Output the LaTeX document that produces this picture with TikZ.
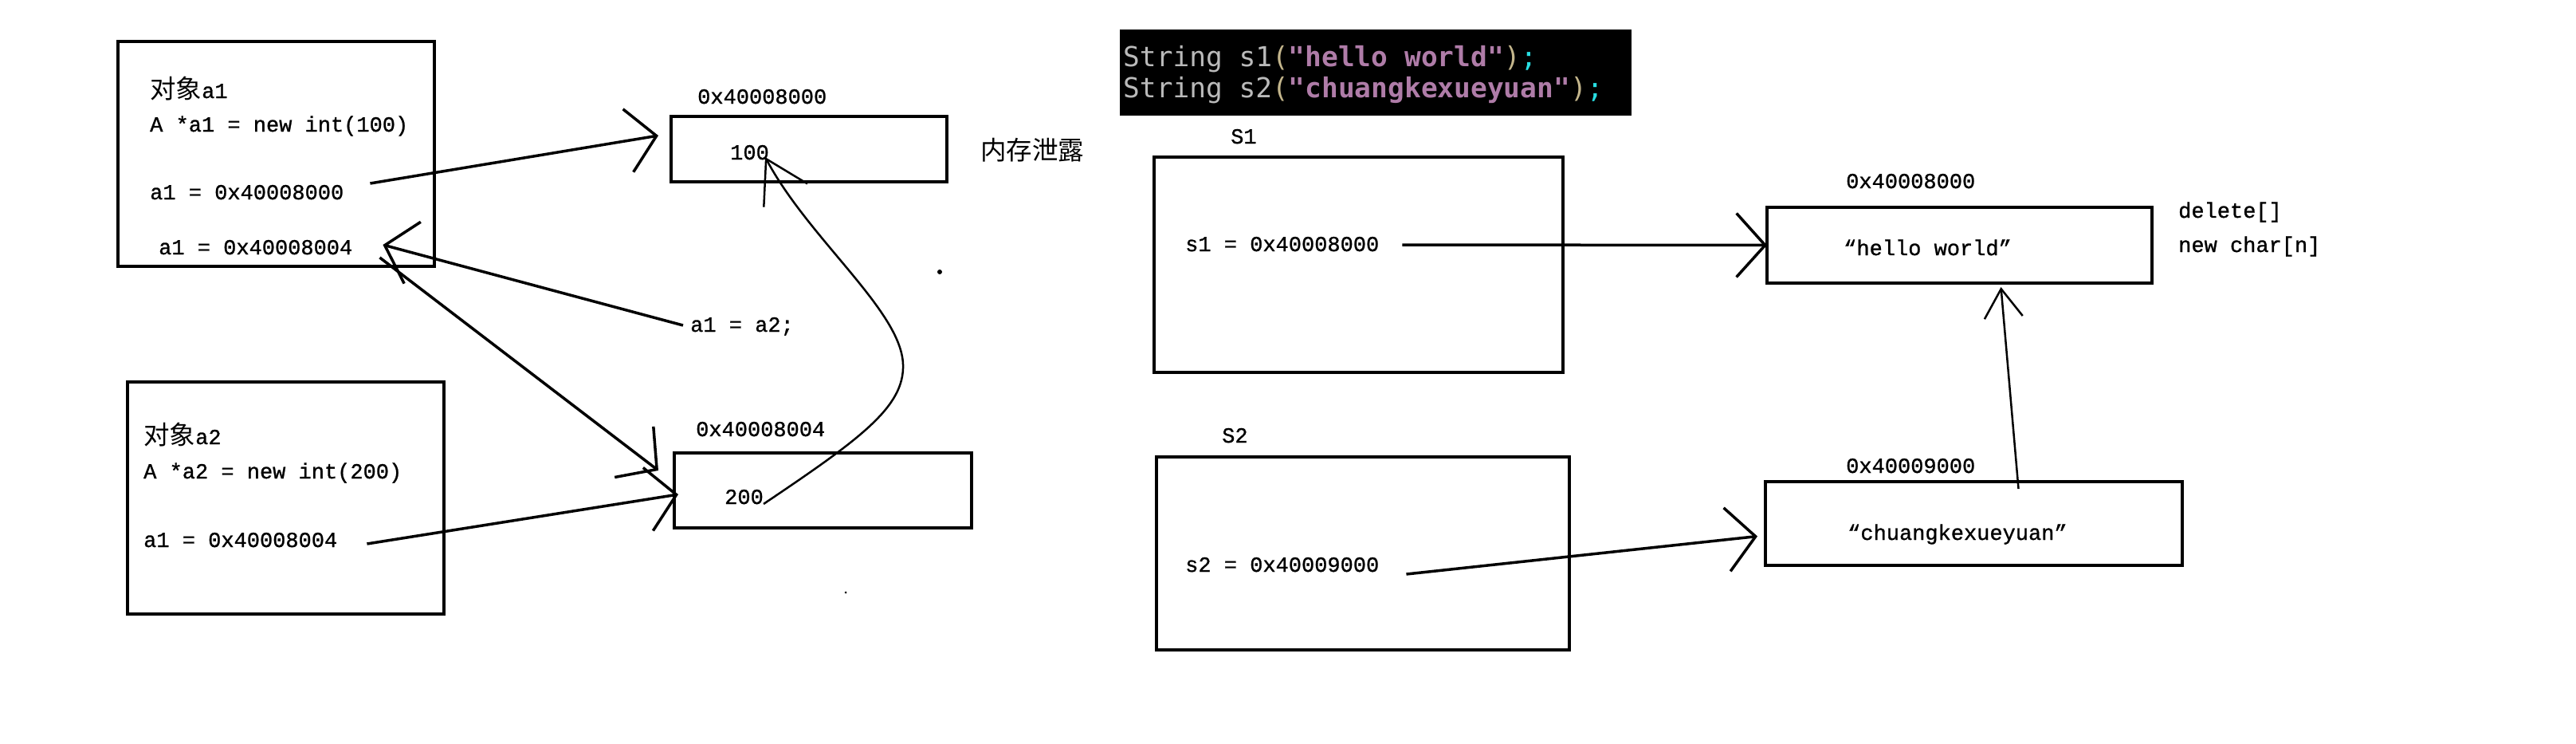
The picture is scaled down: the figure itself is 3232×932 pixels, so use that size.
\documentclass[tikz,border=0pt]{standalone}
\usepackage{fontspec}
\usetikzlibrary{arrows.meta}
\newfontfamily\paintfont[FakeBold=1]{Liberation Mono}
\newfontfamily\cjkfont{Noto Sans CJK SC}
\newfontfamily\codefont{DejaVu Sans Mono}
\newcommand\zh[1]{{\fontsize{32.5pt}{32.5pt}\selectfont\cjkfont #1}}
\definecolor{codegray}{RGB}{186,186,186}
\definecolor{codeparen}{RGB}{196,182,140}
\definecolor{codestr}{RGB}{175,124,168}
\definecolor{codesemi}{RGB}{40,222,226}
\begin{document}
\begin{tikzpicture}[x=1pt, y=-1pt,
  box/.style={draw, line width=4pt, anchor=north west, inner sep=0pt, outer sep=0pt},
  lab/.style={anchor=base west, inner sep=0pt, font=\fontsize{27pt}{27pt}\selectfont\paintfont},
  code/.style={anchor=base west, inner sep=0pt, font=\fontsize{34.5pt}{34.5pt}\selectfont\codefont},
  ptr/.style={line width=3.5pt, -{Straight Barb[length=36pt,width=80pt]}},
  thinptr/.style={line width=2.5pt, -{Straight Barb[length=52pt,width=62pt]}}]
\fill[white] (0,0) rectangle (3232,932);
\useasboundingbox (0,0) rectangle (3232,932);

% Left half: two objects and their heap cells
\node[box, minimum width=397pt, minimum height=282pt] (objA) at (148,52) {};
\node[lab] (titleA) at (188,123) {\zh{对象}a1};
\node[lab] (newA) at (188,165) {A *a1 = new int(100)};
\node[lab] (a1p) at (188,250) {a1 = 0x40008000};
\node[lab] (a1q) at (199,319) {a1 = 0x40008004};

\node[box, minimum width=346pt, minimum height=82pt] (box100) at (842,146) {};
\node[lab] (addr100) at (875,130) {0x40008000};
\node[lab] (v100) at (916,200) {100};
\node[lab] (leak) at (1230,200) {\zh{内存泄露}};

\node[lab] (asg) at (866,416) {a1 = a2;};

\node[box, minimum width=397pt, minimum height=291pt] (objB) at (160,479) {};
\node[lab] (titleB) at (180,557) {\zh{对象}a2};
\node[lab] (newB) at (180,600) {A *a2 = new int(200)};
\node[lab] (a2p) at (180,686) {a1 = 0x40008004};

\node[box, minimum width=373pt, minimum height=94pt] (box200) at (846,568) {};
\node[lab] (addr200) at (873,547) {0x40008004};
\node[lab] (v200) at (909,632) {200};

% Pointers on the left
\draw[ptr] ([xshift=33pt,yshift=20pt]a1p.base east) -- ([xshift=-16pt,yshift=17pt]box100.west);
\draw[ptr] ([xshift=-9pt,yshift=8pt]asg.base west) -- ([xshift=38pt,yshift=12pt]a1q.base east);
\draw[ptr] ([xshift=34pt,yshift=-4pt]a1q.base east) -- ([xshift=-20pt,yshift=25pt]box200.west);
\draw[ptr] ([xshift=37pt,yshift=4pt]a2p.base east) -- ([xshift=5pt,yshift=-5pt]box200.west);
\coordinate (bend) at (1133,457);
\draw[thinptr] (v200.base east) .. controls (1080,550) and (1135,510) .. (bend)
  .. controls (1131,390) and (1015,300) .. ([xshift=-5pt,yshift=3pt]v100.base east);
\fill (1179,341) circle (3pt);
\fill (1061,743) circle (1.5pt);

% Code snippet
\fill[black] (1405,37) rectangle (2047,145);
\node[code] (line1) at (1409,83) {\textcolor{codegray}{String s1}\textcolor{codeparen}{(}{\bfseries\textcolor{codestr}{"hello world"}}\textcolor{codeparen}{)}\textcolor{codesemi}{;}};
\node[code] (line2) at (1409,122) {\textcolor{codegray}{String s2}\textcolor{codeparen}{(}{\bfseries\textcolor{codestr}{"chuangkexueyuan"}}\textcolor{codeparen}{)}\textcolor{codesemi}{;}};

% Right half: two strings and their buffers
\node[lab] (nameS1) at (1544,180) {S1};
\node[box, minimum width=513pt, minimum height=270pt] (objS1) at (1448,197) {};
\node[lab] (s1p) at (1487,315) {s1 = 0x40008000};
\node[box, minimum width=483pt, minimum height=95pt] (hello) at (2217,260) {};
\node[lab] (addrH) at (2316,236) {0x40008000};
\node[lab] (strH) at (2313,320) {“hello world”};
\node[lab] (del) at (2733,273) {delete[]};
\node[lab] (newc) at (2733,316) {new char[n]};

\node[lab] (nameS2) at (1533,555) {S2};
\node[box, minimum width=518pt, minimum height=242pt] (objS2) at (1451,573) {};
\node[lab] (s2p) at (1487,717) {s2 = 0x40009000};
\node[box, minimum width=523pt, minimum height=105pt] (chuang) at (2215,604) {};
\node[lab] (addrC) at (2316,593) {0x40009000};
\node[lab] (strC) at (2318,677) {“chuangkexueyuan”};

% Pointers on the right
\draw[ptr] ([xshift=29pt,yshift=8pt]s1p.base east) -- (hello.west);
\draw[ptr] ([xshift=34pt,yshift=-3pt]s2p.base east) -- ([xshift=-10pt,yshift=-16pt]chuang.west);
\draw[line width=2.5pt, -{Straight Barb[length=36pt,width=48pt]}] ([xshift=56pt,yshift=-9pt]chuang.north) -- ([xshift=52pt,yshift=-5pt]hello.south);
\end{tikzpicture}
\end{document}
